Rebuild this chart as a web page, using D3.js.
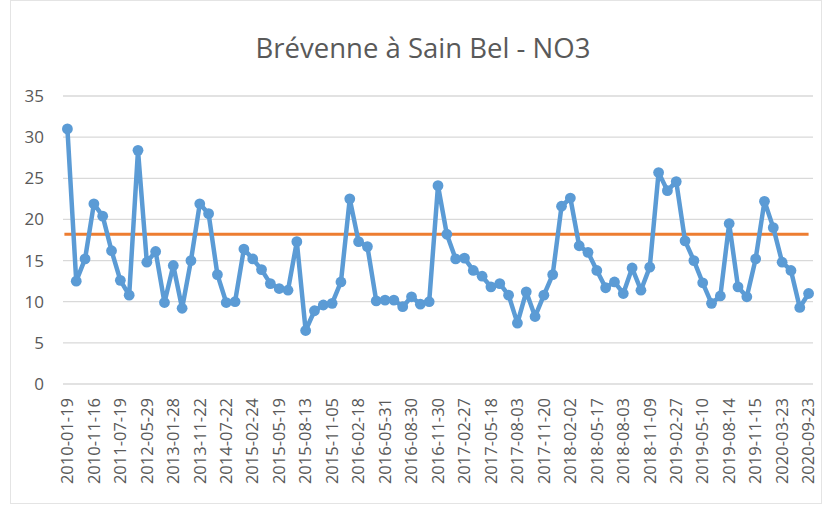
<!DOCTYPE html>
<html>
<head>
<meta charset="utf-8">
<script src="https://cdn.jsdelivr.net/npm/d3@7"></script>
<style>
    body { margin: 0; background: #ffffff; }
    svg { display: block; }
</style>
</head>
<body>
<div id="chart"></div>
<script>
// Sampling dates shown on the axis (one label every 3 samples)
const tickLabels = ["2010-01-19", "2010-11-16", "2011-07-19", "2012-05-29", "2013-01-28",
    "2013-11-22", "2014-07-22", "2015-02-24", "2015-05-19", "2015-08-13", "2015-11-05",
    "2016-02-18", "2016-05-31", "2016-08-30", "2016-11-30", "2017-02-27", "2017-05-18",
    "2017-08-03", "2017-11-20", "2018-02-02", "2018-05-17", "2018-08-03", "2018-11-09",
    "2019-02-27", "2019-05-10", "2019-08-14", "2019-11-15", "2020-03-23", "2020-09-23"];
const labelStep = 3;

// NO3 measurements (mg/L), one per sample
const no3 = [31.0, 12.5, 15.2, 21.9, 20.4, 16.2, 12.6, 10.8, 28.4, 14.8,
    16.1, 9.9, 14.4, 9.2, 15.0, 21.9, 20.7, 13.3, 9.9, 10.0,
    16.4, 15.2, 13.9, 12.2, 11.6, 11.4, 17.3, 6.5, 8.9, 9.6,
    9.8, 12.4, 22.5, 17.3, 16.7, 10.1, 10.2, 10.2, 9.4, 10.6,
    9.7, 10.0, 24.1, 18.2, 15.2, 15.3, 13.8, 13.1, 11.8, 12.2,
    10.8, 7.4, 11.2, 8.2, 10.8, 13.3, 21.6, 22.6, 16.8, 16.0,
    13.8, 11.7, 12.4, 11.0, 14.1, 11.4, 14.2, 25.7, 23.5, 24.6,
    17.4, 15.0, 12.3, 9.8, 10.7, 19.5, 11.8, 10.6, 15.2, 22.2,
    19.0, 14.8, 13.8, 9.3, 11.0];

const referenceValue = 18.2;
const yTicks = [0, 5, 10, 15, 20, 25, 30, 35];

const width = 836, height = 507;
const plot = { left: 63, right: 813, top: 96, bottom: 384 };

const svg = d3.select("#chart")
    .append("svg")
    .attr("width", width)
    .attr("height", height);

// chart area frame
svg.append("rect")
    .attr("x", 10.5).attr("y", 0.5)
    .attr("width", 811).attr("height", 503)
    .attr("fill", "#ffffff")
    .attr("stroke", "#e4e4e4");

const x = d3.scaleBand()
    .domain(d3.range(no3.length))
    .range([plot.left, plot.right]);
const cx = i => x(i) + x.bandwidth() / 2;

const y = d3.scaleLinear()
    .domain([0, 35])
    .range([plot.bottom, plot.top]);

// title
svg.append("text")
    .attr("x", 423)
    .attr("y", 58)
    .attr("text-anchor", "middle")
    .attr("font-family", "'Open Sans', sans-serif")
    .attr("font-size", 27.5)
    .attr("fill", "#595959")
    .text("Brévenne à Sain Bel - NO3");

// gridlines
svg.append("g")
    .selectAll("line")
    .data(yTicks)
    .join("line")
    .attr("x1", plot.left).attr("x2", plot.right)
    .attr("y1", d => y(d)).attr("y2", d => y(d))
    .attr("stroke", "#d9d9d9")
    .attr("stroke-width", 1.3);

// y axis labels
svg.append("g")
    .selectAll("text")
    .data(yTicks)
    .join("text")
    .attr("x", 44)
    .attr("y", d => y(d))
    .attr("dy", "0.35em")
    .attr("text-anchor", "end")
    .attr("font-family", "'Open Sans', sans-serif")
    .attr("font-size", 17)
    .attr("fill", "#595959")
    .text(d => d);

// x axis labels (rotated)
svg.append("g")
    .selectAll("text")
    .data(tickLabels)
    .join("text")
    .attr("transform", (d, k) => "translate(" + cx(k * labelStep) + ",398) rotate(-90)")
    .attr("dy", "0.35em")
    .attr("text-anchor", "end")
    .attr("font-family", "'Open Sans', sans-serif")
    .attr("font-size", 16.5)
    .attr("fill", "#595959")
    .text(d => d);

// reference line
svg.append("line")
    .attr("x1", cx(0) - 3).attr("x2", cx(no3.length - 1))
    .attr("y1", y(referenceValue)).attr("y2", y(referenceValue))
    .attr("stroke", "#ed7d31")
    .attr("stroke-width", 3);

// measurement series
const line = d3.line()
    .x((d, i) => cx(i))
    .y(d => y(d));

svg.append("path")
    .datum(no3)
    .attr("d", line)
    .attr("fill", "none")
    .attr("stroke", "#5b9bd5")
    .attr("stroke-width", 4.5)
    .attr("stroke-linejoin", "round");

svg.append("g")
    .selectAll("circle")
    .data(no3)
    .join("circle")
    .attr("cx", (d, i) => cx(i))
    .attr("cy", d => y(d))
    .attr("r", 5.4)
    .attr("fill", "#5b9bd5");
</script>
</body>
</html>
